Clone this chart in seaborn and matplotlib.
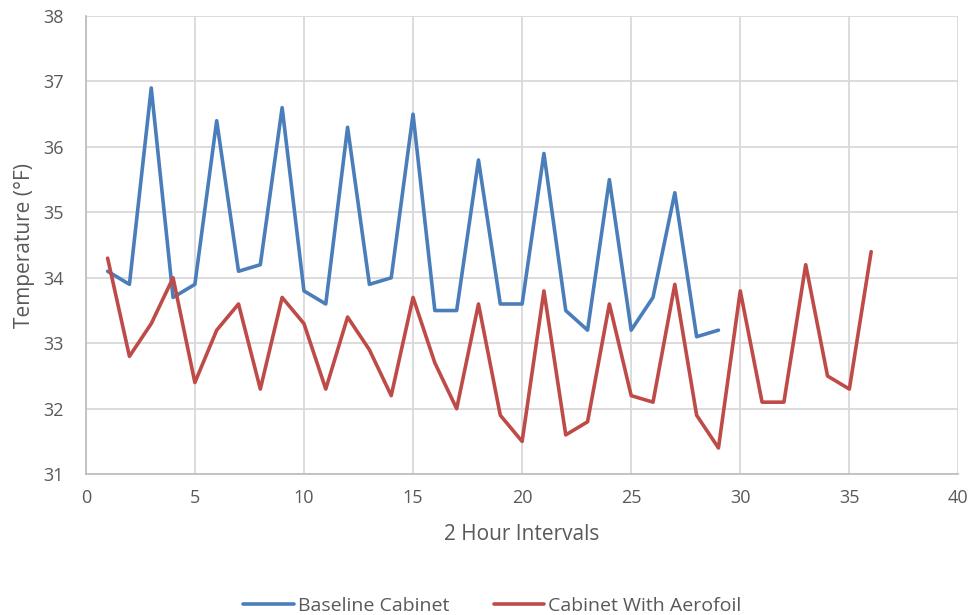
import numpy as np
import pandas as pd
import matplotlib
matplotlib.use("Agg")
import matplotlib.pyplot as plt
import seaborn as sns

baseline = [34.1, 33.9, 36.9, 33.7, 33.9, 36.4, 34.1, 34.2, 36.6, 33.8,
            33.6, 36.3, 33.9, 34.0, 36.5, 33.5, 33.5, 35.8, 33.6, 33.6,
            35.9, 33.5, 33.2, 35.5, 33.2, 33.7, 35.3, 33.1, 33.2]
aerofoil = [34.3, 32.8, 33.3, 34.0, 32.4, 33.2, 33.6, 32.3, 33.7, 33.3,
            32.3, 33.4, 32.9, 32.2, 33.7, 32.7, 32.0, 33.6, 31.9, 31.5,
            33.8, 31.6, 31.8, 33.6, 32.2, 32.1, 33.9, 31.9, 31.4, 33.8,
            32.1, 32.1, 34.2, 32.5, 32.3, 34.4]
series_names = ["Baseline Cabinet", "Cabinet With Aerofoil"]
x_ticks = [0, 5, 10, 15, 20, 25, 30, 35, 40]
y_ticks = [31, 32, 33, 34, 35, 36, 37, 38]

df = pd.concat([
    pd.DataFrame({"x": np.arange(1, len(baseline) + 1), "y": baseline, "s": series_names[0]}),
    pd.DataFrame({"x": np.arange(1, len(aerofoil) + 1), "y": aerofoil, "s": series_names[1]}),
])

sns.set_theme(style="white")
plt.rcParams['font.family'] = ['Open Sans', 'DejaVu Sans']

fig = plt.figure(figsize=(9.75, 6.15), dpi=100)
ax = fig.add_axes([0.088, 0.229, 0.895, 0.745])
sns.lineplot(data=df, x="x", y="y", hue="s", ax=ax,
             palette=["#4A7EBB", "#BE4B48"], linewidth=2.6, legend=True)

ax.set_xlim(0, 40)
ax.set_ylim(31, 38)
ax.set_xticks(x_ticks)
ax.set_yticks(y_ticks)
ax.grid(True, color="#D9D9D9", linewidth=1.3)
ax.set_axisbelow(True)
for s in ["top", "right"]:
    ax.spines[s].set_visible(False)
for s in ["left", "bottom"]:
    ax.spines[s].set_color("#BFBFBF")
    ax.spines[s].set_linewidth(1.3)
ax.tick_params(axis="y", colors="#595959", labelsize=13, length=0, pad=16)
ax.tick_params(axis="x", colors="#595959", labelsize=13, length=0, pad=11)
ax.set_xlabel("2 Hour Intervals", fontsize=15, color="#595959", labelpad=12)
ax.set_ylabel("Temperature (°F)", fontsize=15, color="#595959", labelpad=6)

handles, labels = ax.get_legend_handles_labels()
ax.legend(handles, labels, loc="lower center", bbox_to_anchor=(0.466, -0.345),
          ncol=2, frameon=False, fontsize=14, labelcolor="#595959",
          handlelength=2.6, columnspacing=2.3, handletextpad=0.2)

fig.savefig("out.png", dpi=100)
